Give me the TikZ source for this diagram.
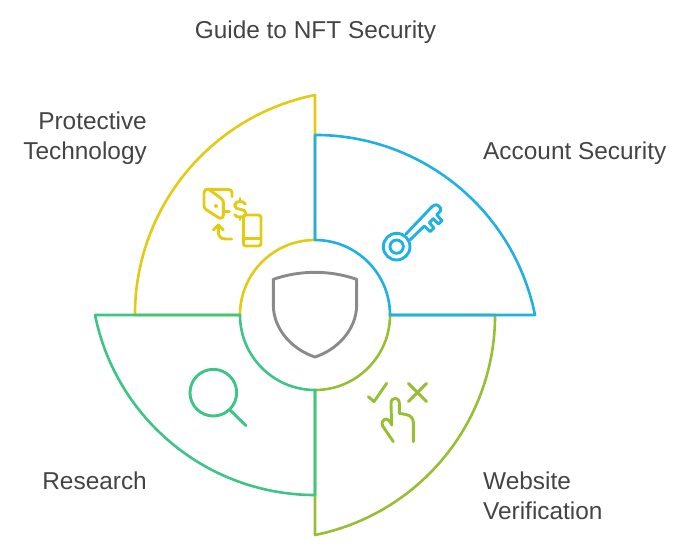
\documentclass[tikz,border=0pt]{standalone}
\usepackage{fontspec}
\setmainfont{Liberation Sans}
\usepackage{tikz}
\definecolor{secblue}{HTML}{1EB1E2}
\definecolor{secyellow}{HTML}{E3CB13}
\definecolor{secolive}{HTML}{97BF33}
\definecolor{secteal}{HTML}{3DC585}
\definecolor{shieldgrey}{HTML}{8A8A8A}
\definecolor{labelgrey}{HTML}{444444}
\begin{document}
\begin{tikzpicture}
[x=1pt,y=1pt,line join=round,line cap=round,
wedge/.style = {line width=2.6pt},
icon/.style = {line width=2.9pt,x=0.3333pt,y=-0.3333pt},
labeltext/.style = {text=labelgrey,font=\fontsize{24.4}{30}\selectfont,inner sep=0pt},]
\useasboundingbox (-315,-237) rectangle (375,315);
% quarter wedges
\draw[wedge,secyellow] (-180,0)--(-75,0) arc[start angle=180,end angle=90,radius=75]--(0,220) arc[start angle=101.4,end angle=180,radius=224.4];
\draw[wedge,secolive] (180,0)--(75,0) arc[start angle=0,end angle=-90,radius=75]--(0,-220) arc[start angle=-78.6,end angle=0,radius=224.4];
\draw[wedge,secteal] (-220,0)--(-75,0) arc[start angle=180,end angle=270,radius=75]--(0,-180) arc[start angle=-90,end angle=-168.6,radius=224.4];
\draw[wedge,secblue] (0,180)--(0,75) arc[start angle=90,end angle=0,radius=75]--(220,0) arc[start angle=11.4,end angle=90,radius=224.4];
% shield
\begin{scope}[shift={(-85,85)},icon,shieldgrey]
\draw (130,148) .. controls (210,120) and (300,120) .. (380,148)--(380,225) .. controls (380,300) and (320,360) .. (255,381) .. controls (190,360) and (130,300) .. (130,225)--cycle;
\end{scope}
% key
\begin{scope}[shift={(55,125)},icon,secblue]
\draw (80,170) circle (40);
\draw (80,170) circle (20);
\draw (108,132)--(186,50) .. controls (195,42) and (205,42) .. (212,55) .. controls (214,60) and (212,64) .. (200,74)--(216,92)--(205,102)--(190,86)--(178,98)--(192,114)--(180,125)--(163,108)--(120,150);
\end{scope}
% wallet, dollar, phone
\begin{scope}[shift={(-125,145)},icon,secyellow]
\draw (42,68) .. controls (42,60) and (48,56) .. (56,58)--(92,84) .. controls (98,88) and (100,92) .. (100,98)--(100,135) .. controls (100,145) and (92,147) .. (84,142)--(50,120) .. controls (44,116) and (42,112) .. (42,106)--cycle;
\fill (78,108) circle (6);
\draw (56,58)--(115,58) .. controls (122,58) and (126,62) .. (126,68)--(126,80);
\draw (100,125)--(118,125);
\draw (166,102) .. controls (162,92) and (136,90) .. (134,106) .. controls (134,124) and (168,112) .. (168,130) .. controls (166,146) and (138,144) .. (134,134);
\draw (150,85)--(150,96);
\draw (150,140)--(150,149);
\draw (125,207)--(105,207) .. controls (92,207) and (85,198) .. (85,185)--(85,165);
\draw (70,180)--(85,165)--(100,180);
\draw[rounded corners=2.5pt] (160,135) rectangle (213,228);
\draw (160,205)--(213,205);
\end{scope}
% check, cross, hand
\begin{scope}[shift={(45,-55)},icon,secolive]
\draw (25,80)--(42,95)--(80,40);
\draw (145,40)--(200,95);
\draw (200,40)--(145,95);
\draw (100,215)--(68,168) .. controls (60,148) and (84,135) .. (95,165)--(93,100) .. controls (93,80) and (118,80) .. (118,100)--(118,130)--(140,134) .. controls (152,136) and (160,146) .. (160,158)--(160,215);
\end{scope}
% magnifier
\begin{scope}[shift={(-140,-45)},icon,secteal]
\draw (115,98) circle (70);
\draw (165,150)--(213,197);
\end{scope}
% labels
\node (title) at (0.5,282.5)[labeltext,anchor=center] {Guide to NFT Security};
\node (protect) at (-168,177)[labeltext,anchor=east,align=right] {Protective\\Technology};
\node (account) at (168,162)[labeltext,anchor=west] {Account Security};
\node (research) at (-168,-166)[labeltext,anchor=east] {Research};
\node (website) at (168,-181)[labeltext,anchor=west,align=left] {Website\\Verification};
\end{tikzpicture}
\end{document}
